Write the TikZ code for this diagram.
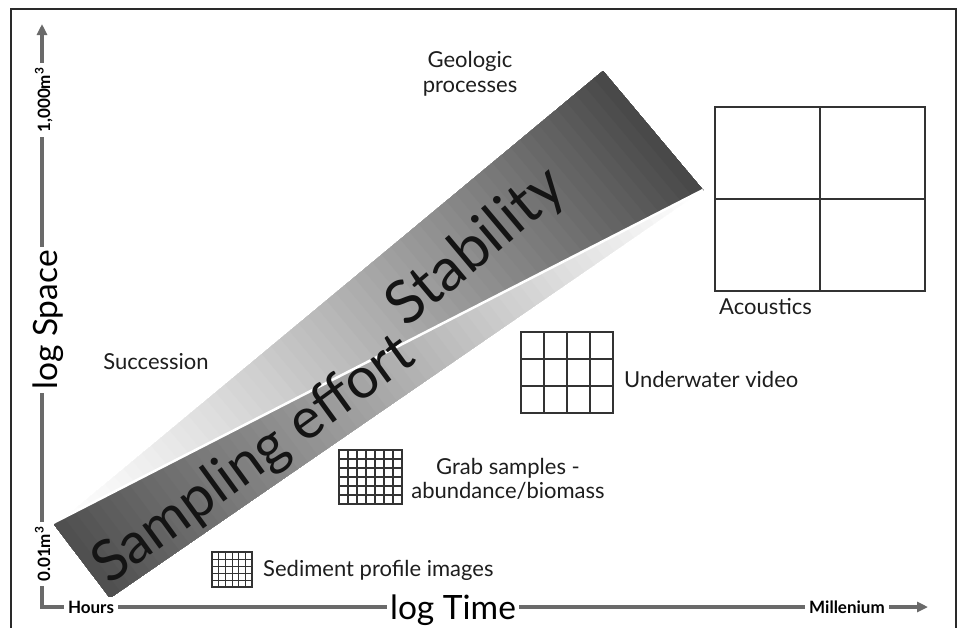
\documentclass[tikz,border=0pt]{standalone}
\usepackage{fontspec}
\setmainfont{Lato}
\usetikzlibrary{calc,arrows.meta}
\definecolor{axisgray}{HTML}{6A6A6A}
\definecolor{framecol}{HTML}{2A2A2A}
\definecolor{txt}{HTML}{1E1E1E}
\definecolor{gridcol}{HTML}{333333}
\newcommand\mygrid[4]{% node, cols, rows, style
  \pgfmathtruncatemacro\mgc{#2-1}\pgfmathtruncatemacro\mgr{#3-1}%
  \foreach \c in {1,...,\mgc}{\pgfmathsetmacro\f{\c/#2}\draw[#4] ($(#1.north west)!\f!(#1.north east)$) -- ($(#1.south west)!\f!(#1.south east)$);}%
  \foreach \r in {1,...,\mgr}{\pgfmathsetmacro\f{\r/#3}\draw[#4] ($(#1.north west)!\f!(#1.south west)$) -- ($(#1.north east)!\f!(#1.south east)$);}%
}
\begin{document}
\begin{tikzpicture}[x=1pt,y=-1pt,
  lbl/.style={text=txt, inner sep=0pt, align=center, font=\fontsize{22}{24.5}\selectfont},
  axlbl/.style={fill=white, text=black, inner sep=4pt, font=\fontsize{17}{19}\selectfont\bfseries},
  axtitle/.style={fill=white, text=black, inner xsep=3pt, inner ysep=1pt, font=\fontsize{33.5}{35}\selectfont},
  axisline/.style={draw=axisgray, line width=3.2pt, line join=miter},
  big/.style={text=black!92, inner sep=0pt, font=\fontsize{#1}{#1}\selectfont},
  gbox/.style={draw=gridcol, line width=#1, inner sep=0pt, outer sep=0pt},
  gin/.style={draw=gridcol, line width=#1}
]
\useasboundingbox (0,0) rectangle (959,627);
\fill[white] (0,0) rectangle (959,627);
% frame
\draw[framecol, line width=1.6pt] (11,630) -- (11,9) -- (956,9) -- (956,630);

% Stability wedge
\coordinate (A) at (603,71);
\coordinate (B) at (703,190);
\coordinate (P) at (50,530);
\foreach \i in {0,...,60}{
  \pgfmathsetmacro\t{\i/60}
  \pgfmathsetmacro\k{73*\t^1.3}
  \fill[black!\k!white] ($(P)!\t!(A)$) -- (A) -- (B) -- ($(P)!\t!(B)$) -- cycle;
}
% Sampling effort wedge
\coordinate (C) at (53,523);
\coordinate (D) at (110,598);
\coordinate (Q) at (703,190);
\foreach \i in {0,...,60}{
  \pgfmathsetmacro\t{\i/60}
  \pgfmathsetmacro\k{70*\t^1.1}
  \fill[black!\k!white] ($(Q)!\t!(C)$) -- (C) -- (D) -- ($(Q)!\t!(D)$) -- cycle;
}
\draw[white, line width=2.5pt] (C) -- (Q);

\node[big=60, rotate=40] (stab) at (477,248) {Stability};
\node[big=57, rotate=36] (samp) at (254,461) {Sampling effort};

% axes
\coordinate (O) at (42,607);
\coordinate (Ytip) at (42,24);
\coordinate (Xtip) at (928,607);
\draw[axisline, {Triangle[length=11pt,width=10pt]}-{Triangle[length=11pt,width=10pt]}] (Ytip) -- (O) -- (Xtip);
\node[axlbl, rotate=90, anchor=base] (ytop) at (50,100) {1,000m\textsuperscript{3}};
\node[axtitle, rotate=90, anchor=base] (ytitle) at (57,320) {log Space};
\node[axlbl, rotate=90, anchor=base] (ybot) at (50,554) {0.01m\textsuperscript{3}};
\node[axlbl, anchor=base] (hours) at (91,613) {Hours};
\node[axtitle, anchor=base] (xtitle) at (453,619) {log Time};
\node[axlbl, anchor=base] (mill) at (847,613) {Millenium};

% labels
\node[lbl] (geo) at (470,74) {Geologic\\processes};
\node[lbl] (succ) at (156,362) {Succession};
\node[lbl, anchor=west] (acou) at (719,307) {Acoustics};
\node[lbl, anchor=west] (uwv) at (624,379) {Underwater video};
\node[lbl] (grab) at (508,479) {Grab samples -\\abundance/biomass};
\node[lbl, anchor=west] (sed) at (263,570) {Sediment profile images};

% grids
\node[gbox=1.9pt, minimum width=210pt, minimum height=184pt] (acg) at (820,199) {};
\mygrid{acg}{2}{2}{gin=1.9pt}
\node[gbox=1.7pt, minimum width=92pt, minimum height=81pt] (uwg) at (567,372.5) {};
\mygrid{uwg}{4}{3}{gin=1.7pt}
\node[gbox=1.3pt, minimum width=63pt, minimum height=54pt] (grg) at (370.5,477) {};
\mygrid{grg}{7}{6}{gin=1.1pt}
\node[gbox=1.1pt, minimum width=40pt, minimum height=35pt] (sdg) at (232,569.5) {};
\mygrid{sdg}{6}{5}{gin=0.8pt}
\end{tikzpicture}
\end{document}
